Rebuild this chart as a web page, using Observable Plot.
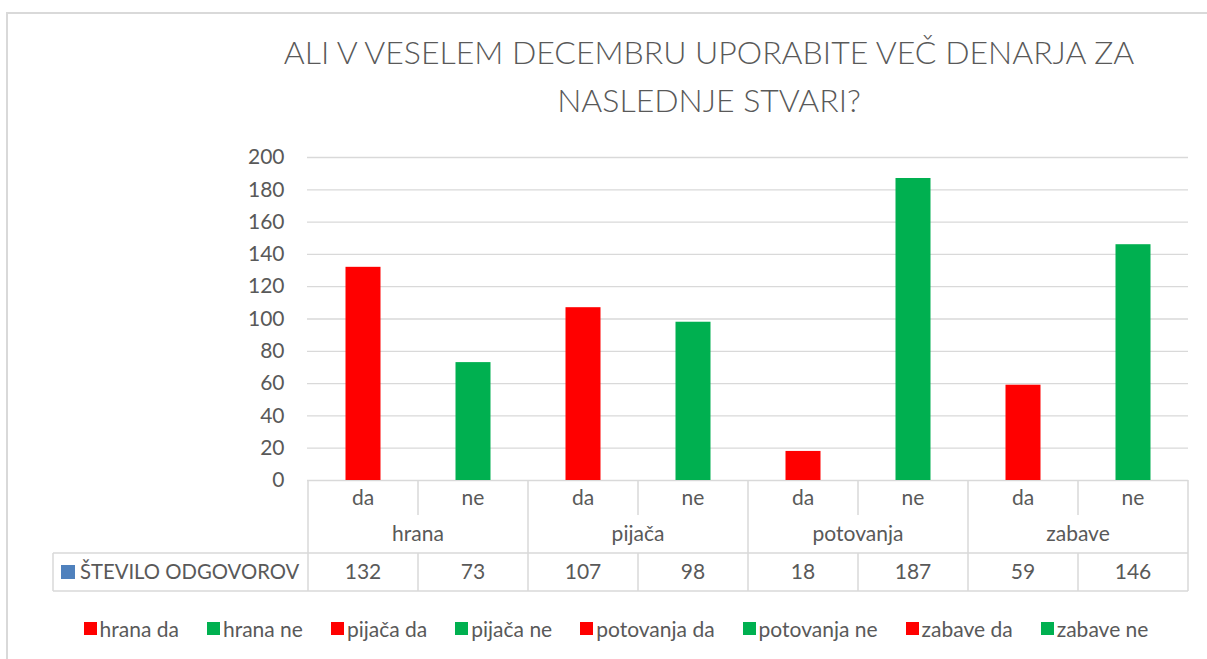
<!DOCTYPE html>
<html>
<head>
<meta charset="utf-8">
<script src="https://cdn.jsdelivr.net/npm/d3@7"></script>
<script src="https://cdn.jsdelivr.net/npm/@observablehq/plot@0.6"></script>
<style>
  html, body { margin: 0; padding: 0; background: #fff; }
  body { width: 1207px; height: 659px; position: relative; overflow: hidden; font-family: Lato, "Open Sans", sans-serif; color: #595959; }
  #frame { position: absolute; left: 6px; top: 12px; width: 1210px; height: 700px; border-left: 2px solid #d9d9d9; border-top: 2px solid #d9d9d9; box-sizing: border-box; }
  #title { position: absolute; left: 209px; width: 1000px; top: 28px; text-align: center; font-size: 32px; line-height: 48px; font-weight: 300; color: #595959; }
  #chart { position: absolute; left: 0; top: 130px; }
  #legend { position: absolute; left: 0; width: 1232px; top: 615px; height: 26px; display: flex; justify-content: center; align-items: center; font-size: 21px; color: #595959; }
  .item { display: flex; align-items: center; margin: 0 14px; white-space: nowrap; }
  .sw { width: 13px; height: 13px; margin-right: 3px; display: inline-block; }
</style>
</head>
<body>
<div id="frame"></div>
<div id="title"></div>
<div id="chart"></div>
<div id="legend"></div>
<script>
// ---- data ----
const categories = ["hrana", "pijača", "potovanja", "zabave"];
const answers = ["da", "ne"];
const values = [132, 73, 107, 98, 18, 187, 59, 146];
const yTicks = [0, 20, 40, 60, 80, 100, 120, 140, 160, 180, 200];
const seriesName = "ŠTEVILO ODGOVOROV";
const titleLines = ["ALI V VESELEM DECEMBRU UPORABITE VEČ DENARJA ZA", "NASLEDNJE STVARI?"];
const answerColors = ["#FF0000", "#00B050"];
const seriesColor = "#4F81BD";

const rows = categories.flatMap((c, i) => answers.map((a, j) => ({
  key: c + " " + a, category: c, answer: a, value: values[i * answers.length + j]
})));

// ---- title ----
document.getElementById("title").innerHTML = titleLines.join("<br>");

// ---- chart ----
const W = 1207, H = 470, mL = 307, mR = 19, mT = 27, mB = 120;
const grid = "#d9d9d9";
const plot = Plot.plot({
  width: W, height: H,
  marginLeft: mL, marginRight: mR, marginTop: mT, marginBottom: mB,
  style: { fontFamily: "Lato, 'Open Sans', sans-serif", fontSize: "21px", color: "#595959", background: "transparent", overflow: "visible" },
  x: { domain: rows.map(d => d.key), padding: 0, axis: null },
  y: { domain: [0, 200], axis: null },
  color: { domain: answers, range: answerColors },
  marks: [
    Plot.ruleY(yTicks, { stroke: grid, strokeWidth: 1.3 }),
    Plot.barY(rows, { x: "key", y: "value", fill: "answer", insetLeft: 37.5, insetRight: 37.5 }),
    Plot.axisY({ ticks: yTicks, tickSize: 0, tickPadding: 23, tickFormat: d => String(d), fontSize: 21, label: null })
  ]
});
document.getElementById("chart").appendChild(plot);

// ---- data table under the axis, positioned with the plot's x scale ----
const xs = plot.scale("x");
const step = xs.step;
const xStart = k => xs.apply(k);
const y0 = H - mB;                 // table top (value 0)
const r1 = y0 + 35, r2 = r1 + 38, r3 = r2 + 38;
const tableLeft = 53;
const xRight = xStart(rows[rows.length - 1].key) + step;

const svg = d3.select(plot);
const g = svg.append("g").attr("stroke", grid).attr("stroke-width", 1.5).attr("fill", "none");
categories.forEach(c => {
  const x = xStart(c + " " + answers[0]);
  g.append("line").attr("x1", x).attr("x2", x).attr("y1", y0).attr("y2", r3);
});
g.append("line").attr("x1", xRight).attr("x2", xRight).attr("y1", y0).attr("y2", r3);
categories.forEach(c => {
  answers.slice(1).forEach(a => {
    const x = xStart(c + " " + a);
    g.append("line").attr("x1", x).attr("x2", x).attr("y1", y0).attr("y2", r1);
    g.append("line").attr("x1", x).attr("x2", x).attr("y1", r2).attr("y2", r3);
  });
});
[r2, r3].forEach(y => g.append("line").attr("x1", tableLeft).attr("x2", xRight).attr("y1", y).attr("y2", y));
g.append("line").attr("x1", tableLeft).attr("x2", tableLeft).attr("y1", r2).attr("y2", r3);

const t = svg.append("g").attr("fill", "#595959").attr("font-size", 21).attr("font-family", "Lato, 'Open Sans', sans-serif");
rows.forEach(d => {
  const cx = xStart(d.key) + step / 2;
  t.append("text").attr("x", cx).attr("y", (y0 + r1) / 2).attr("dy", "0.35em").attr("text-anchor", "middle").text(d.answer);
  t.append("text").attr("x", cx).attr("y", (r2 + r3) / 2).attr("dy", "0.35em").attr("text-anchor", "middle").text(d.value);
});
categories.forEach(c => {
  const cx = xStart(c + " " + answers[0]) + step * answers.length / 2;
  t.append("text").attr("x", cx).attr("y", (r1 + r2) / 2).attr("dy", "0.35em").attr("text-anchor", "middle").text(c);
});
svg.append("rect").attr("x", 61).attr("y", (r2 + r3) / 2 - 7).attr("width", 14).attr("height", 14).attr("fill", seriesColor);
t.append("text").attr("x", 80).attr("y", (r2 + r3) / 2).attr("dy", "0.35em").attr("text-anchor", "start").attr("font-size", 20.3).text(seriesName);

// ---- legend ----
const legend = d3.select("#legend");
rows.forEach(d => {
  const it = legend.append("div").attr("class", "item");
  it.append("span").attr("class", "sw").style("background", answerColors[answers.indexOf(d.answer)]);
  it.append("span").text(d.key);
});
</script>
</body>
</html>
